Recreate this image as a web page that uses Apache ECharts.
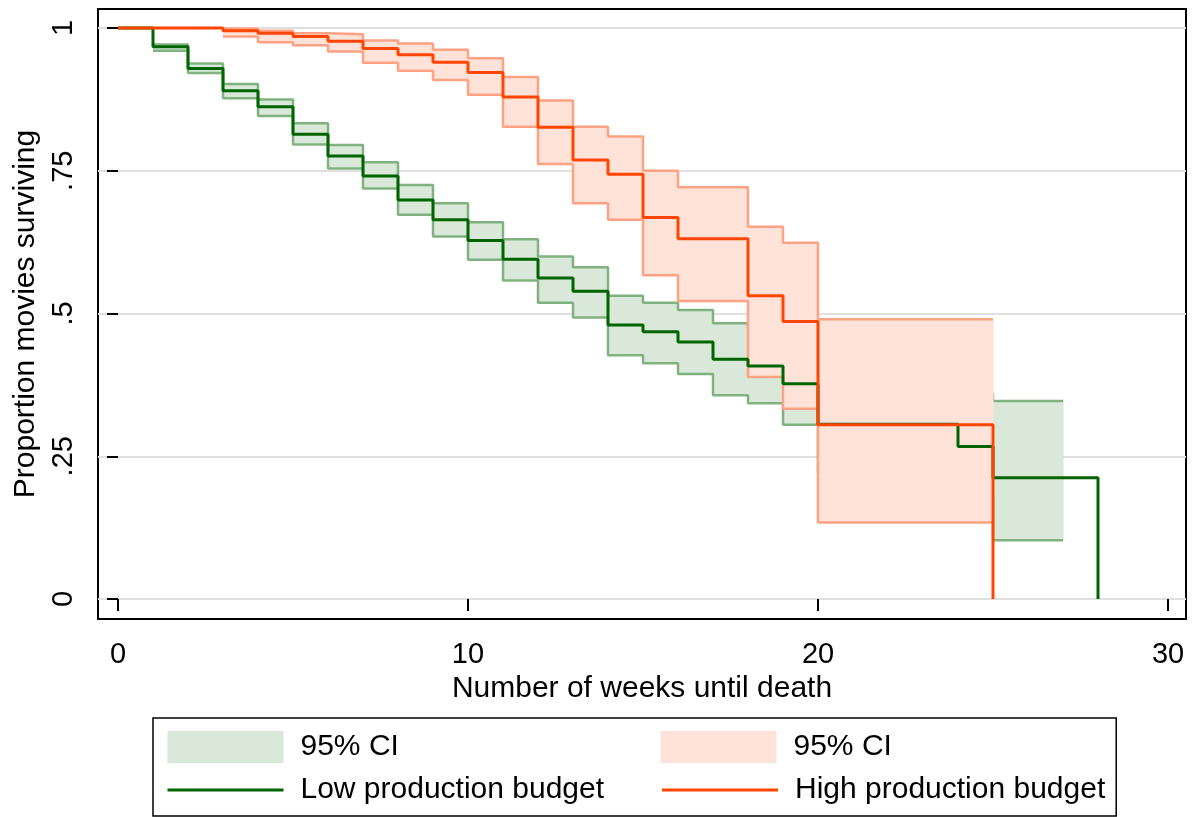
<!DOCTYPE html>
<html><head><meta charset="utf-8">
<script src="https://cdn.jsdelivr.net/npm/echarts@6/dist/echarts.min.js"></script>
<style>html,body{margin:0;padding:0;background:#fff}#c{width:1195px;height:817px}</style>
</head><body><div id="c"></div>
<script>
// ---- tick / label data ----
const xTicks = [0, 10, 20, 30];
const yTicks = [0, 0.25, 0.5, 0.75, 1];
const yTickLabels = ['0', '.25', '.5', '.75', '1'];
const legendKeys = ['lowCI', 'highCI', 'lowKM', 'highKM'];
const legendLabels = ['95% CI', '95% CI', 'Low production budget', 'High production budget'];

// ---- Kaplan-Meier estimates ----
const lowTimes = [0, 1, 2, 3, 4, 5, 6, 7, 8, 9, 10, 11, 12, 13, 14, 15, 16, 17, 18, 19, 20, 24, 25, 28];
const lowSurv  = [1, 0.967, 0.929, 0.890, 0.862, 0.814, 0.776, 0.741, 0.699, 0.664, 0.628, 0.595, 0.562, 0.539, 0.480, 0.468, 0.450, 0.420, 0.408, 0.377, 0.306, 0.267, 0.2125, 0];

const highTimes = [0, 3, 4, 5, 6, 7, 8, 9, 10, 11, 12, 13, 14, 15, 16, 18, 19, 20, 25];
const highSurv  = [1, 0.995, 0.991, 0.985, 0.977, 0.964, 0.953, 0.940, 0.922, 0.879, 0.826, 0.769, 0.744, 0.668, 0.631, 0.531, 0.486, 0.305, 0];

// ---- 95% confidence bands (value holds from time[i] to time[i+1]) ----
const lowCiTimes = [1, 2, 3, 4, 5, 6, 7, 8, 9, 10, 11, 12, 13, 14, 15, 16, 17, 18, 19, 20, 24, 25, 27];
const lowUpper   = [0.971, 0.938, 0.902, 0.875, 0.833, 0.795, 0.765, 0.725, 0.693, 0.660, 0.630, 0.600, 0.581, 0.531, 0.519, 0.506, 0.483, 0.475, 0.445, 0.400, 0.360, 0.347, 0.347];
const lowLower   = [0.960, 0.921, 0.877, 0.846, 0.796, 0.754, 0.719, 0.673, 0.635, 0.594, 0.558, 0.519, 0.493, 0.427, 0.413, 0.394, 0.357, 0.343, 0.305, 0.220, 0.180, 0.103, 0.103];

const highCiTimes = [3, 4, 5, 6, 7, 8, 9, 10, 11, 12, 13, 14, 15, 16, 18, 19, 20, 25];
const highUpper   = [0.999, 0.995, 0.991, 0.989, 0.978, 0.973, 0.962, 0.947, 0.914, 0.873, 0.827, 0.810, 0.750, 0.721, 0.652, 0.624, 0.490, 0.490];
const highLower   = [0.985, 0.975, 0.970, 0.959, 0.939, 0.925, 0.909, 0.883, 0.827, 0.762, 0.693, 0.664, 0.567, 0.522, 0.389, 0.333, 0.134, 0.134];

// ---- styles ----
const FONT = "'Liberation Sans', Arial, sans-serif";
const lowColor = '#006400', highColor = '#FF4500';
const lowFill = '#D9E8D9', highFill = '#FFE3D9';
const lowEdge = '#80B280', highEdge = '#FFA283';

const pairs = (xs, ys) => xs.map((x, i) => [x, ys[i]]);
const rects = (ts, up, lo) => ts.slice(0, -1).map((t, i) => [t, ts[i + 1], lo[i], up[i]]);

function band(name, ts, up, lo, fill, edge, z) {
  return [
    {
      name, type: 'custom', silent: true, z: z, itemStyle: { color: fill },
      data: rects(ts, up, lo), encode: { x: [0, 1], y: [2, 3] },
      renderItem: (params, api) => {
        const a = api.coord([api.value(0), api.value(3)]);
        const b = api.coord([api.value(1), api.value(2)]);
        return { type: 'rect', shape: { x: a[0], y: a[1], width: b[0] - a[0] + 0.6, height: b[1] - a[1] }, style: { fill: fill } };
      }
    },
    { name: name + 'Up', type: 'line', z: z + 1, step: 'end', symbol: 'none', silent: true, data: pairs(ts, up), lineStyle: { color: edge, width: 2.5 } },
    { name: name + 'Lo', type: 'line', z: z + 1, step: 'end', symbol: 'none', silent: true, data: pairs(ts, lo), lineStyle: { color: edge, width: 2.5 } }
  ];
}

const chart = echarts.init(document.getElementById('c'), null, { renderer: 'canvas' });
chart.setOption({
  animation: false,
  backgroundColor: '#fff',
  grid: { left: 98, top: 9, right: 9, bottom: 198, show: true, borderColor: '#000', borderWidth: 2, backgroundColor: 'transparent' },
  xAxis: {
    type: 'value', min: -0.5714, max: 30.514,
    name: 'Number of weeks until death', nameLocation: 'middle', nameGap: 50,
    nameTextStyle: { fontFamily: FONT, fontSize: 30, color: '#000' },
    axisLine: { show: false },
    axisTick: { show: true, inside: false, length: 12, customValues: xTicks, lineStyle: { color: '#000', width: 2 } },
    axisLabel: { customValues: xTicks, margin: 21, fontFamily: FONT, fontSize: 29, color: '#000' },
    splitLine: { show: false }
  },
  yAxis: {
    type: 'value', min: -0.035, max: 1.0333,
    name: 'Proportion movies surviving', nameLocation: 'middle', nameGap: 56,
    nameTextStyle: { fontFamily: FONT, fontSize: 30, color: '#000' },
    axisLine: { show: false },
    axisTick: { show: true, inside: false, length: 11, customValues: yTicks, lineStyle: { color: '#000', width: 2 } },
    axisLabel: { customValues: yTicks, rotate: 90, margin: 20, fontFamily: FONT, fontSize: 29, color: '#000',
      formatter: v => yTickLabels[yTicks.findIndex(t => Math.abs(t - v) < 1e-9)] },
    splitLine: { show: true, lineStyle: { color: '#E0E0E0', width: 2 } }
  },
  legend: {
    left: 153, top: 718, orient: 'horizontal', width: 940,
    padding: [13, 11, 10, 13], itemGap: 11, itemWidth: 116, itemHeight: 32,
    borderColor: '#000', borderWidth: 1.5, selectedMode: false,
    textStyle: { fontFamily: FONT, fontSize: 30, color: '#000', padding: [0, 0, 0, 12], lineHeight: 32 },
    formatter: n => legendLabels[legendKeys.indexOf(n)],
    data: [
      { name: 'lowCI', icon: 'rect', itemStyle: { color: lowFill, borderWidth: 0 }, textStyle: { width: 349 } },
      { name: 'highCI', icon: 'rect', itemStyle: { color: highFill, borderWidth: 0 }, textStyle: { width: 300 } },
      { name: 'lowKM', itemStyle: { opacity: 0 }, lineStyle: { color: lowColor, width: 3 }, textStyle: { width: 349 } },
      { name: 'highKM', itemStyle: { opacity: 0 }, lineStyle: { color: highColor, width: 3 }, textStyle: { width: 300 } }
    ]
  },
  series: [
    ...band('lowCI', lowCiTimes, lowUpper, lowLower, lowFill, lowEdge, 2),
    ...band('highCI', highCiTimes, highUpper, highLower, highFill, highEdge, 4),
    { name: 'lowKM', type: 'line', z: 6, step: 'end', symbol: 'none', silent: true, data: pairs(lowTimes, lowSurv), lineStyle: { color: lowColor, width: 3 }, itemStyle: { color: lowColor } },
    { name: 'highKM', type: 'line', z: 7, step: 'end', symbol: 'none', silent: true, data: pairs(highTimes, highSurv), lineStyle: { color: highColor, width: 3 }, itemStyle: { color: highColor } }
  ]
});
</script>
</body></html>
